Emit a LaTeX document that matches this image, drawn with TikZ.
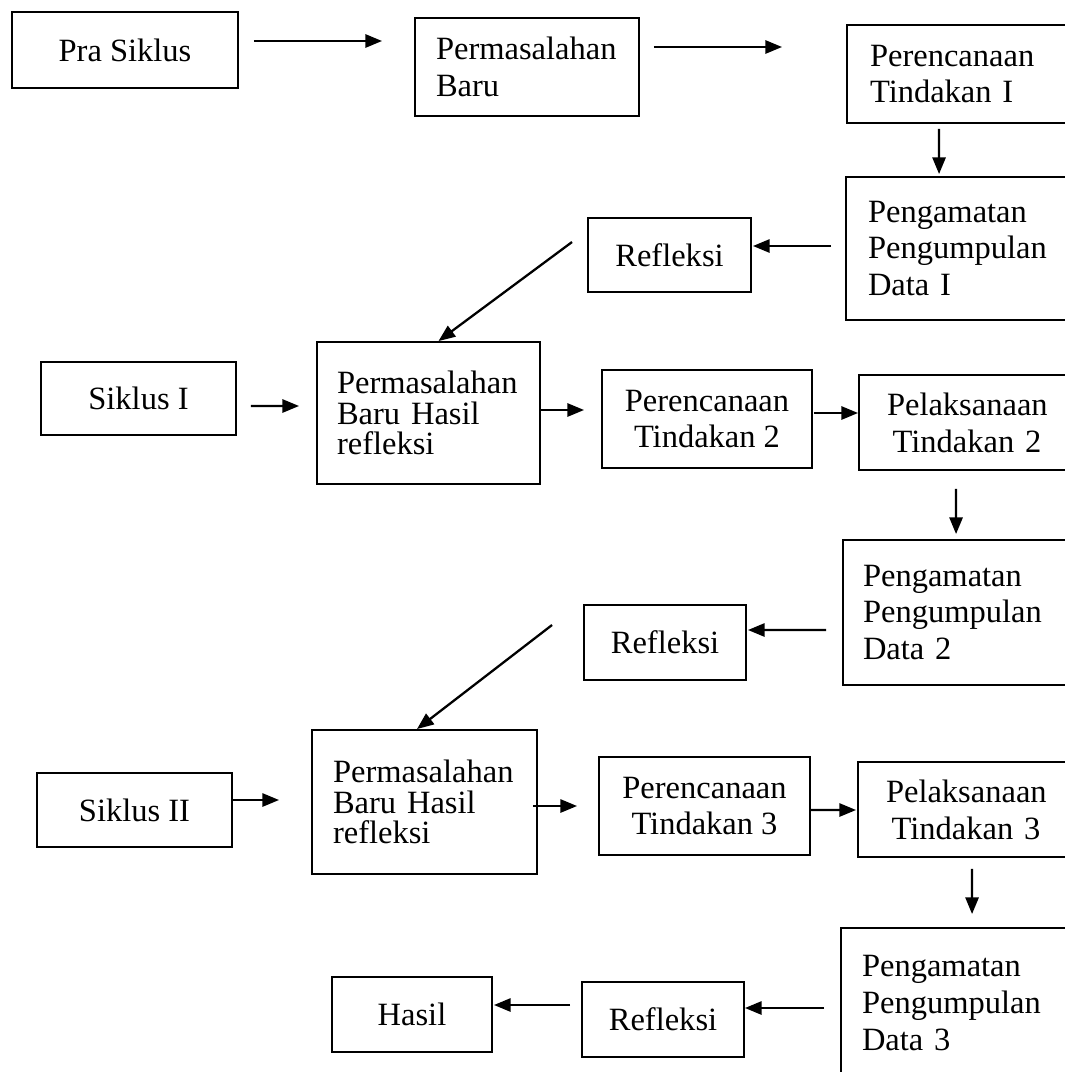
\documentclass[tikz,border=0pt]{standalone}
\usepackage{fontspec}
\setmainfont{Liberation Serif}
\usetikzlibrary{arrows.meta,calc}

\begin{document}
\begin{tikzpicture}[
 x=0.02cm,y=-0.02cm,
 box/.style={draw,line width=1.1pt,inner ysep=0pt,font=\fontsize{18.5}{21}\selectfont},
 cbox/.style={box,align=center},
 lbox/.style={box,align=left},
 tight/.style={font=\fontsize{18.5}{17.5}\selectfont},
 arr/.style={-{Triangle[length=9.5pt,width=7.5pt]},line width=1.3pt}
]
\useasboundingbox (0,0) rectangle (1065,1072);
\clip (0,0) rectangle (1065,1072);
\fill[white] (0,0) rectangle (1065,1072);
% first row
\node[cbox,minimum width=4.52cm,minimum height=1.52cm] (pra) at (125,50) {Pra Siklus};
\node[lbox,text width=3.64cm,inner xsep=0.42cm,minimum height=1.96cm] (baru) at (527,67) {Permasalahan\\Baru};
\node[lbox,text width=3.94cm,inner xsep=0.46cm,minimum height=1.96cm] (renA) at (968.5,74) {Perencanaan\\Tindakan I};
\node[lbox,text width=4.0cm,inner xsep=0.44cm,minimum height=2.86cm] (amatA) at (968,248.5) {Pengamatan\\Pengumpulan\\Data I};
\node[cbox,minimum width=3.26cm,minimum height=1.48cm] (reflA) at (669.5,255) {Refleksi};
% siklus I
\node[cbox,minimum width=3.9cm,minimum height=1.46cm] (sikA) at (138.5,398.5) {Siklus I};
\node[lbox,tight,text width=3.66cm,inner xsep=0.40cm,minimum height=2.84cm] (permA) at (428.5,413) {Permasalahan\\Baru Hasil\\refleksi};
\node[cbox,minimum width=4.2cm,minimum height=1.96cm] (renB) at (707,419) {Perencanaan\\Tindakan 2};
\node[cbox,text width=3.2cm,inner xsep=0.56cm,minimum height=1.9cm] (pelB) at (967,422.5) {Pelaksanaan\\Tindakan 2};
\node[lbox,text width=4.14cm,inner xsep=0.40cm,minimum height=2.9cm] (amatB) at (966.5,612.5) {Pengamatan\\Pengumpulan\\Data 2};
\node[cbox,minimum width=3.24cm,minimum height=1.5cm] (reflB) at (665,642.5) {Refleksi};
% siklus II
\node[cbox,minimum width=3.9cm,minimum height=1.48cm] (sikB) at (134.5,810) {Siklus II};
\node[lbox,tight,text width=3.66cm,inner xsep=0.42cm,minimum height=2.88cm] (permB) at (424.5,802) {Permasalahan\\Baru Hasil\\refleksi};
\node[cbox,minimum width=4.22cm,minimum height=1.96cm] (renC) at (704.5,806) {Perencanaan\\Tindakan 3};
\node[cbox,text width=3.2cm,inner xsep=0.56cm,minimum height=1.9cm] (pelC) at (966,809.5) {Pelaksanaan\\Tindakan 3};
\node[lbox,text width=4.14cm,inner xsep=0.42cm,minimum height=3.0cm] (amatC) at (965.5,1003) {Pengamatan\\Pengumpulan\\Data 3};
\node[cbox,minimum width=3.24cm,minimum height=1.5cm] (reflC) at (663,1019.5) {Refleksi};
\node[cbox,minimum width=3.2cm,minimum height=1.5cm] (hasil) at (412,1014.5) {Hasil};
% connectors
\draw[arr] ($(pra.east)+(15,-9)$) -- ($(baru.west)+(-32,-26)$);
\draw[arr] ($(baru.east)+(14,-20)$) -- ($(renA.west)+(-64,-27)$);
\draw[arr] ($(renA.south west)+(93,5)$) -- ($(amatA.north west)+(94,-2)$);
\draw[arr] ($(amatA.west)+(-14,-2.5)$) -- ($(reflA.east)+(1,-9)$);
\draw[arr] ($(reflA.west)+(-15,-13)$) -- ($(permA.north)+(10,0)$);
\draw[arr] ($(sikA.east)+(14,7.5)$) -- ($(permA.west)+(-17,-7)$);
\draw[arr] ($(permA.east)+(0,-3)$) -- ($(renB.west)+(-17,-9)$);
\draw[arr] ($(renB.east)+(1,-6)$) -- ($(pelB.west)+(0,-9.5)$);
\draw[arr] ($(pelB.south west)+(98,18)$) -- ($(amatB.north west)+(114,-5)$);
\draw[arr] ($(amatB.west)+(-16,17.5)$) -- ($(reflB.east)+(1,-12.5)$);
\draw[arr] ($(reflB.west)+(-31,-17.5)$) -- ($(permB.north)+(-7.5,0)$);
\draw[arr] ($(sikB.east)+(0,-10)$) -- ($(permB.west)+(-32,-2)$);
\draw[arr] ($(permB.east)+(-5,4)$) -- ($(renC.west)+(-21,0)$);
\draw[arr] ($(renC.east)+(0,4)$) -- ($(pelC.west)+(-1,0.5)$);
\draw[arr] ($(pelC.south west)+(115,11)$) -- ($(amatC.north west)+(132,-13)$);
\draw[arr] ($(amatC.west)+(-16,5)$) -- ($(reflC.east)+(0,-11.5)$);
\draw[arr] ($(reflC.west)+(-11,-14.5)$) -- ($(hasil.east)+(1,-9.5)$);
\end{tikzpicture}
\end{document}
